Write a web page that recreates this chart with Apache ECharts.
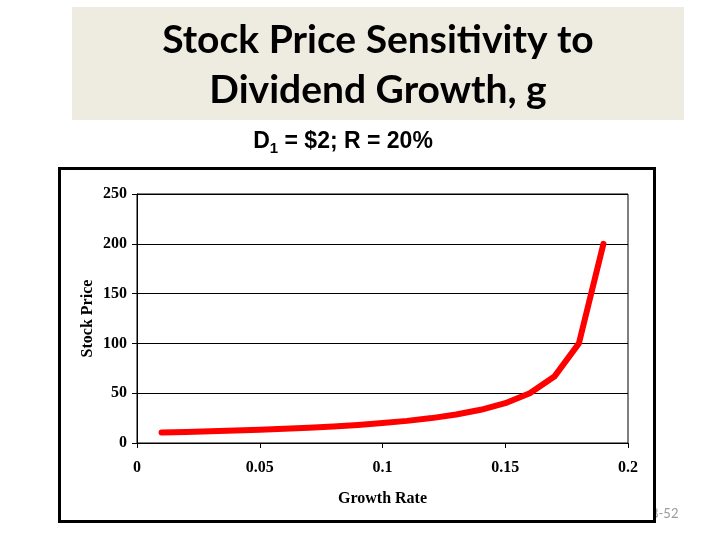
<!DOCTYPE html>
<html>
<head>
<meta charset="utf-8">
<script src="https://cdn.jsdelivr.net/npm/echarts@6/dist/echarts.min.js"></script>
<style>html,body{margin:0;padding:0;background:#fff;}#c{width:720px;height:540px;}</style>
</head>
<body>
<div id="c"></div>
<script>
var growthRates = [0.01,0.02,0.03,0.04,0.05,0.06,0.07,0.08,0.09,0.10,0.11,0.12,0.13,0.14,0.15,0.16,0.17,0.18,0.19];
var stockPrices = [10.53,11.11,11.76,12.5,13.33,14.29,15.38,16.67,18.18,20,22.22,25,28.57,33.33,40,50,66.67,100,200];
var titleLines = ['Stock Price Sensitivity to', 'Dividend Growth, g'];
var xTicks = {min:0, max:0.2, interval:0.05};
var yTicks = {min:0, max:250, interval:50};

var chart = echarts.init(document.getElementById('c'));
var serif = '"Liberation Serif", "Times New Roman", serif';
var sans = '"Liberation Sans", Arial, sans-serif';
chart.setOption({
  animation: false,
  backgroundColor: '#ffffff',
  graphic: [
    {type:'text', z:-20, left:651, top:507, style:{text:'8-52', fill:'#9a9a9a', font:'13px Lato, sans-serif'}},
    {type:'rect', z:-10, shape:{x:59.5, y:168.5, width:595, height:353}, style:{fill:'#ffffff', stroke:'#000', lineWidth:3}},
    {type:'rect', z:-10, shape:{x:72, y:7, width:612, height:113}, style:{fill:'#eeece1'}},
    {type:'text', z:-5, x:378, y:40, style:{text:titleLines[0], fill:'#000', font:'bold 39px Lato, sans-serif', textAlign:'center', textVerticalAlign:'middle'}},
    {type:'text', z:-5, x:378, y:90, style:{text:titleLines[1], fill:'#000', font:'bold 39px Lato, sans-serif', textAlign:'center', textVerticalAlign:'middle'}},
    {type:'text', z:-5, x:343, y:142, style:{
      rich:{
        a:{fontFamily:sans, fontWeight:'bold', fontSize:23, color:'#000'},
        s:{fontFamily:sans, fontWeight:'bold', fontSize:15, color:'#000', padding:[13,0,0,0]}
      },
      text:'{a|D}{s|1}{a| = $2; R = 20%}', textAlign:'center', textVerticalAlign:'middle'}}
  ],
  grid: {left:137, top:194, width:491, height:249, show:true, borderColor:'#000', borderWidth:1, backgroundColor:'transparent'},
  xAxis: {
    type:'value', min:xTicks.min, max:xTicks.max, interval:xTicks.interval,
    name:'Growth Rate', nameLocation:'middle', nameGap:48,
    nameTextStyle:{fontFamily:serif, fontWeight:'bold', fontSize:16, color:'#000'},
    axisLine:{show:true, lineStyle:{color:'#000', width:1}},
    axisTick:{show:true, length:5, lineStyle:{color:'#000'}},
    axisLabel:{margin:17, fontFamily:serif, fontWeight:'bold', fontSize:16, color:'#000'},
    splitLine:{show:false}
  },
  yAxis: {
    type:'value', min:yTicks.min, max:yTicks.max, interval:yTicks.interval,
    name:'Stock Price', nameLocation:'middle', nameGap:41, nameMoveOverlap:false,
    nameTextStyle:{fontFamily:serif, fontWeight:'bold', fontSize:16, color:'#000'},
    axisLine:{show:true, lineStyle:{color:'#000', width:1}},
    axisTick:{show:true, length:5, lineStyle:{color:'#000'}},
    axisLabel:{margin:10, fontFamily:serif, fontWeight:'bold', fontSize:16, color:'#000'},
    splitLine:{show:true, lineStyle:{color:'#000', width:1}}
  },
  series: [{
    type:'line',
    data: growthRates.map(function(g,i){return [g, stockPrices[i]];}),
    showSymbol:false, symbol:'none',
    lineStyle:{color:'#ff0000', width:6, cap:'round', join:'round'}
  }]
});
</script>
</body>
</html>
